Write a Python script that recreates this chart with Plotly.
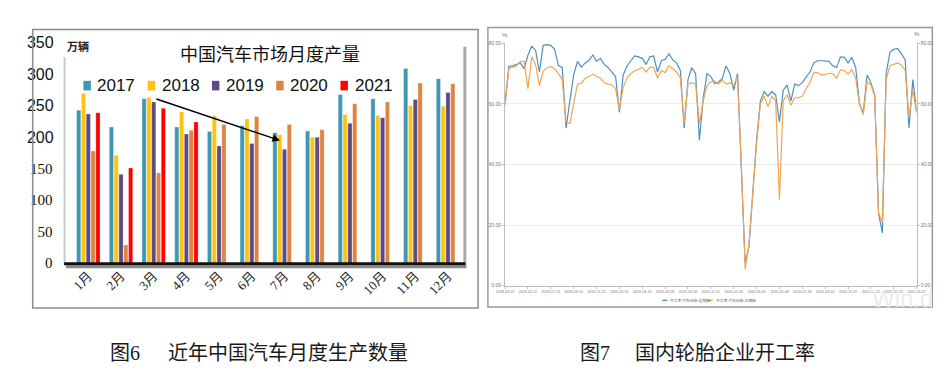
import plotly.graph_objects as go

W, H = 950, 376
def px(x): return x / W
def py(y): return 1 - y / H

# ---------------- data: left chart (万辆) ----------------
months = ["1月", "2月", "3月", "4月", "5月", "6月", "7月", "8月", "9月", "10月", "11月", "12月"]
years = ["2017", "2018", "2019", "2020", "2021"]
prod_2017 = [243, 216, 261, 216, 209, 218, 207, 210, 268, 261, 309, 293]
prod_2018 = [270, 171, 263, 240, 234, 229, 204, 200, 236, 234, 250, 249]
prod_2019 = [237, 141, 256, 205, 186, 190, 181, 200, 222, 231, 260, 271]
prod_2020 = [178, 28.5, 143, 211, 220, 233, 220, 212, 253, 256, 286, 285]
prod_2021 = [239, 151, 246, 224, None, None, None, None, None, None, None, None]
bar_colors = ["#3f98b1", "#ffc20e", "#5e4a80", "#de8441", "#ff0000"]

# ---------------- data: right chart (%) ----------------
rate_steel = [60.5, 72.4, 72.5, 73.0, 73.5, 71.6, 76.0, 79.0, 77.7, 70.5,
              79.3, 79.5, 79.3, 78.0, 72.6, 72.0, 52.0, 61.0, 69.5, 74.0,
              72.1, 73.4, 74.3, 76.1, 74.0, 75.0, 73.0, 72.0, 70.3, 69.0,
              57.2, 69.5, 72.5, 74.0, 75.8, 75.5, 75.0, 73.0, 75.5, 75.8,
              70.5, 74.2, 74.7, 76.5, 74.5, 73.5, 71.0, 52.0, 68.0, 71.9,
              70.0, 48.0, 62.0, 70.0, 69.0, 66.6, 67.2, 68.3, 72.5, 70.0,
              64.5, 70.0, 40.0, 7.4, 13.0, 32.0, 48.0, 61.0, 64.0, 62.5,
              64.0, 63.0, 54.0, 64.5, 66.2, 61.0, 66.5, 66.0, 67.0, 68.8,
              70.5, 73.5, 74.2, 74.2, 74.2, 74.0, 72.5, 72.0, 75.4, 75.4,
              73.5, 75.3, 72.0, 60.0, 57.0, 69.5, 67.0, 63.0, 24.0, 17.4,
              70.0, 77.0, 78.0, 78.3, 76.5, 74.5, 52.0, 68.0, 57.5]
rate_semi = [59.5, 71.6, 72.1, 72.5, 74.0, 74.0, 65.0, 75.5, 73.0, 66.0,
             70.8, 71.8, 72.3, 71.6, 70.0, 68.0, 54.0, 53.5, 60.0, 66.5,
             66.8, 68.4, 69.0, 69.8, 69.0, 68.5, 67.0, 66.5, 66.3, 65.0,
             58.0, 65.5, 68.5, 70.0, 70.8, 71.5, 72.0, 70.5, 72.0, 72.0,
             68.5, 71.0, 70.3, 72.6, 71.6, 70.5, 68.5, 53.5, 66.5, 67.0,
             66.5, 53.5, 61.0, 66.0, 67.3, 67.5, 66.5, 67.8, 66.5, 67.0,
             66.0, 69.0, 40.0, 5.5, 13.5, 31.0, 47.0, 60.0, 62.5, 59.0,
             62.5, 61.0, 28.4, 61.0, 63.0, 59.5, 62.0, 62.0, 62.5, 65.0,
             67.0, 70.2, 70.3, 69.5, 69.8, 70.0, 70.0, 68.5, 71.2, 71.0,
             69.8, 71.3, 68.5, 60.0, 56.5, 67.3, 66.3, 62.5, 24.0, 21.0,
             68.0, 72.5, 73.0, 73.5, 72.8, 71.0, 55.5, 64.5, 57.0]
week_idx = list(range(len(rate_steel)))
date_ticks = ["2018-03-02", "2018-05-11", "2018-07-13", "2018-09-14", "2018-11-23",
              "2019-01-25", "2019-04-19", "2019-06-28", "2019-08-30", "2019-11-01",
              "2020-01-03", "2020-03-05", "2020-05-08", "2020-07-28", "2020-09-10",
              "2020-11-19", "2021-01-21", "2021-03-25", "2021-05-27"]
tick_step = 6
series_names = ["开工率:汽车轮胎:全钢胎", "开工率:汽车轮胎:半钢胎"]
line_colors = ["#4e90bd", "#f2a455"]

fig = go.Figure()

for name, vals, col in zip(years, [prod_2017, prod_2018, prod_2019, prod_2020, prod_2021], bar_colors):
    fig.add_trace(go.Bar(x=months, y=vals, name=name, marker=dict(color=col, line=dict(color="rgba(255,255,255,0.45)", width=0.6)),
                         xaxis="x", yaxis="y", showlegend=False))
# helper trace so the overlaid tick axis is drawn
fig.add_trace(go.Scatter(x=months[:1], y=[None], xaxis="x", yaxis="y3", showlegend=False, hoverinfo="skip"))

for name, vals, col in zip(series_names, [rate_steel, rate_semi], line_colors):
    fig.add_trace(go.Scatter(x=week_idx, y=vals, name=name, mode="lines", line=dict(color=col, width=1.2),
                             xaxis="x2", yaxis="y2", showlegend=False))
fig.add_trace(go.Scatter(x=[0], y=[None], xaxis="x2", yaxis="y4", showlegend=False, hoverinfo="skip"))

tickvals_r = week_idx[::tick_step]

fig.update_layout(
    width=W, height=H, margin=dict(l=0, r=0, t=0, b=0),
    paper_bgcolor="white", plot_bgcolor="rgba(0,0,0,0)",
    barmode="group", bargap=0.265, bargroupgap=0.13,
    xaxis=dict(domain=[px(48.5), px(456)], anchor="y", type="category", tickangle=-45,
               tickfont=dict(family="Liberation Serif, Noto Sans CJK SC", size=13, color="#222"),
               showgrid=False, showline=False, zeroline=False, ticks="", ticklabelstandoff=2),
    yaxis=dict(domain=[py(258), py(28)], anchor="x", range=[0, 350], tickvals=[0, 50, 100, 150],
               tickfont=dict(family="Liberation Serif", size=15, color="#111"),
               showgrid=False, showline=False, zeroline=False, ticks="", ticklabelstandoff=11),
    yaxis3=dict(overlaying="y", anchor="x", range=[0, 350], tickvals=[200, 250, 300, 350],
                tickfont=dict(family="Liberation Sans Narrow, Liberation Sans", size=16, color="#111"),
                showgrid=False, showline=False, zeroline=False, ticks="", ticklabelstandoff=10),
    xaxis2=dict(domain=[px(497.5), px(917)], anchor="y2", range=[0, len(rate_steel) - 1],
                tickvals=tickvals_r, ticktext=date_ticks, tickangle=0,
                tickfont=dict(family="Liberation Sans", size=3.6, color="#777"),
                showgrid=False, showline=True, linecolor="#bdbdbd", linewidth=1, zeroline=False,
                ticks="outside", ticklen=2, tickcolor="#bdbdbd"),
    yaxis2=dict(domain=[py(281.7), py(28.4)], anchor="x2", range=[0, 80], tickvals=[0, 20, 40, 60, 80],
                tickformat=".2f", tickfont=dict(family="Liberation Sans", size=5, color="#777"),
                showgrid=True, gridcolor="#ececec", gridwidth=1, showline=True, linecolor="#bdbdbd",
                zeroline=False, ticks="outside", ticklen=2, tickcolor="#bdbdbd"),
    yaxis4=dict(overlaying="y2", anchor="x2", side="right", range=[0, 80], tickvals=[0, 20, 40, 60, 80],
                tickformat=".2f", tickfont=dict(family="Liberation Sans", size=5, color="#777"),
                showgrid=False, showline=True, linecolor="#bdbdbd", zeroline=False,
                ticks="outside", ticklen=2, tickcolor="#bdbdbd"),
)

shapes = []
def rect(x0, y0, x1, y1, **kw):
    shapes.append(dict(type="rect", xref="paper", yref="paper", x0=px(x0), x1=px(x1), y0=py(y1), y1=py(y0), **kw))
def line(x0, y0, x1, y1, color, width):
    shapes.append(dict(type="line", xref="paper", yref="paper", x0=px(x0), x1=px(x1), y0=py(y0), y1=py(y1),
                       line=dict(color=color, width=width)))

# left chart frame and decorations
rect(16, 14, 470, 305, line=dict(color="#8c8c8c", width=1.5))
line(48.5, 43, 48.5, 258, "#c8c8c8", 2)
line(456.5, 32, 456.5, 262, "#a9a9a9", 3)
line(50, 262, 458, 262, "#8a8a8a", 3)
line(48, 258.8, 457, 258.8, "#111111", 3)
# right chart frame
rect(480, 12, 933, 304, line=dict(color="#9a9a9a", width=1.5))

annotations = []
def text(x, y, s, size, color="#111", family="Noto Sans CJK SC", xanchor="center", **kw):
    annotations.append(dict(x=px(x), y=py(y), xref="paper", yref="paper", text=s, showarrow=False,
                            xanchor=xanchor, yanchor="middle", font=dict(size=size, color=color, family=family), **kw))

# manual legend (left chart)
for i, (yr, col) in enumerate(zip(years, bar_colors)):
    x0 = 67.7 + i * 65.5
    rect(x0, 67.7, x0 + 7.6, 77.7, fillcolor=col, line=dict(width=0))
    text(x0 + 12.3, 72.5, yr, 17, family="Liberation Sans Narrow, Liberation Sans", xanchor="left")

text(258, 39, "中国汽车市场月度产量", 18, color="#111")
text(62, 31, "<b>万辆</b>", 11, color="#222")
annotations.append(dict(x=px(268), y=py(130), xref="paper", yref="paper", ax=143 - 268, ay=88 - 130,
                        axref="pixel", ayref="pixel", text="", showarrow=True, arrowhead=2, arrowsize=1,
                        arrowwidth=1.5, arrowcolor="#000", standoff=0))

# right chart extras
text(497, 20, "%", 6, color="#777", family="Liberation Sans")
text(917, 19, "%", 6, color="#777", family="Liberation Sans")
line(658, 297, 663, 297, line_colors[0], 1.5)
text(664, 297, series_names[0], 3.8, color="#666", xanchor="left")
line(704, 297, 709, 297, line_colors[1], 1.5)
text(710, 297, series_names[1], 3.8, color="#666", xanchor="left")
text(903, 295, "Win.d", 24, color="#ebebeb", family="Liberation Sans")

# captions
cap_font = "Liberation Serif, Noto Sans CJK SC"
text(93, 352, "图6", 20, color="#1a1a1a", family=cap_font, xanchor="left")
text(152, 352, "近年中国汽车月度生产数量", 20, color="#1a1a1a", family=cap_font, xanchor="left")
text(572, 352, "图7", 20, color="#1a1a1a", family=cap_font, xanchor="left")
text(628, 352, "国内轮胎企业开工率", 20, color="#1a1a1a", family=cap_font, xanchor="left")

fig.update_layout(shapes=shapes, annotations=annotations)
fig.write_html("out.html")
